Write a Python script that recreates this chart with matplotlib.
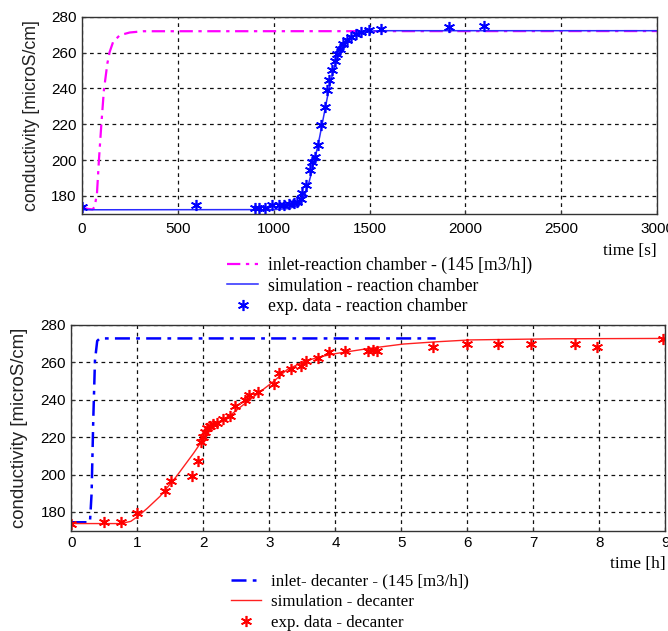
import matplotlib
matplotlib.use('Agg')
import matplotlib.pyplot as plt

# --- top chart: reaction chamber (time in s) ---
inlet_rc_t = [0, 30, 55, 66, 78, 88, 101, 114, 132, 144, 162, 197, 249, 319, 3000]
inlet_rc_v = [173.5, 172.8, 172.5, 174, 181.5, 199.8, 220.3, 238.9, 253.8, 260.3,
              265.9, 269.7, 271.2, 271.9, 272.0]

sim_rc_t = [0, 1000, 1080, 1120, 1140, 1160, 1180, 1200, 1220, 1240, 1260, 1280,
            1300, 1320, 1340, 1360, 1380, 1400, 1430, 1460, 1500, 1560, 3000]
sim_rc_v = [172.3, 172.4, 173, 174.5, 176.5, 180, 186, 194, 203, 213, 224, 235,
            245, 253, 259, 263.5, 266.5, 268.5, 270.5, 271.5, 272, 272.2, 272.2]

exp_rc_t = [0, 595, 904, 921, 957, 992, 1026, 1052, 1079, 1105, 1122, 1140, 1149,
            1170, 1187, 1201, 1213, 1231, 1245, 1266, 1280, 1290, 1302, 1320, 1332,
            1346, 1364, 1381, 1402, 1428, 1454, 1498, 1559, 1915, 2100]
exp_rc_v = [173.6, 175, 173.3, 173.3, 173.3, 175, 175, 175, 175.5, 176, 176.5, 178.3,
            181.5, 186.3, 194.5, 198.8, 201.6, 208.7, 219.7, 229.6, 238.9, 244.9,
            250.5, 255.3, 259.4, 262.2, 265, 266.9, 268.7, 270.6, 271.5, 272.5, 273.4,
            274.5, 275]

# --- bottom chart: decanter (time in h) ---
inlet_dc_t = [0, 0.28, 0.305, 0.33, 0.356, 0.39, 0.43, 5.52]
inlet_dc_v = [174.5, 174.5, 190, 229, 261, 271.5, 272.8, 272.8]

sim_dc_t = [0, 0.75, 0.9, 1.0, 1.15, 1.34, 1.59, 1.85, 1.99, 2.15, 2.35, 2.6, 2.86,
            3.06, 3.26, 3.51, 3.77, 4.02, 4.52, 5.03, 5.53, 6.04, 7.3, 9]
sim_dc_v = [173.8, 173.8, 175, 177.5, 182, 188.3, 199, 211.4, 218.6, 225.7, 230.1,
            237.2, 244.3, 249.7, 255.9, 260.3, 263, 264.8, 267.5, 269.8, 271, 272,
            272.6, 272.8]

exp_dc_t = [0.0, 0.49, 0.745, 1.0, 1.41, 1.51, 1.83, 1.92, 1.97, 2.0, 2.03, 2.06, 2.1,
            2.14, 2.2, 2.3, 2.41, 2.48, 2.63, 2.69, 2.83, 3.07, 3.14, 3.32, 3.48, 3.55,
            3.74, 3.91, 4.14, 4.5, 4.57, 4.63, 5.48, 5.99, 6.47, 6.97, 7.63, 7.96, 8.97]
exp_dc_v = [173.8, 174.5, 174.5, 179.5, 191.4, 196.5, 199.5, 207, 217.6, 220.3, 223,
            224.8, 226, 227.1, 227.8, 229.6, 231.4, 236.9, 239.9, 242.4, 244.3, 248.4,
            254.1, 256.3, 258.2, 260.9, 262.1, 265.3, 266.2, 266.2, 266.6, 266.2, 268.3,
            269.6, 269.8, 269.8, 269.8, 268.3, 272.4]

y_ticks = [180, 200, 220, 240, 260, 280]

tick_font = ['Liberation Sans Narrow', 'Liberation Sans', 'DejaVu Sans']
serif_font = ['Liberation Serif', 'DejaVu Serif']
sans_font = ['Liberation Sans', 'DejaVu Sans']

dashdot = (0, (6, 2.5, 1.5, 2.5))
aster = (6, 2, 0)

fig = plt.figure(figsize=(6.68, 6.31), dpi=100)
ax1 = fig.add_axes([0.1228, 0.6610, 0.8607, 0.3125])
ax2 = fig.add_axes([0.1070, 0.1590, 0.8890, 0.3260])


def style(ax, xlim, xticks, xlab, ylab_x, ylab_size, xlab_pad, xtick_pad):
    ax.set_xlim(*xlim)
    ax.set_ylim(170, 280)
    ax.set_xticks(xticks)
    ax.set_yticks(y_ticks)
    ax.grid(True, color='#111111', linestyle=(0, (3, 3)), linewidth=0.9)
    ax.set_axisbelow(True)
    for s in ax.spines.values():
        s.set_color('#333333')
        s.set_linewidth(1.0)
    ax.tick_params(direction='in', length=3, color='#333333', pad=4)
    ax.tick_params(axis='x', pad=xtick_pad)
    for lab in ax.get_xticklabels() + ax.get_yticklabels():
        lab.set_family(tick_font)
        lab.set_fontsize(11)
    ax.set_ylabel('conductivity [microS/cm]', family=sans_font, fontsize=ylab_size,
                  color='#222222')
    ax.yaxis.set_label_coords(ylab_x, 0.5)
    ax.set_xlabel(xlab, family=serif_font, fontsize=12.5, loc='right', labelpad=xlab_pad)


# top
ax1.plot(inlet_rc_t, inlet_rc_v, color='#ff00ff', linestyle=dashdot, linewidth=1.6,
         label='inlet-reaction chamber - (145 [m3/h])')
ax1.plot(sim_rc_t, sim_rc_v, color='#2a2aff', linewidth=1.1,
         label='simulation - reaction chamber')
ax1.plot(exp_rc_t, exp_rc_v, linestyle='none', marker=aster, markersize=8,
         markeredgewidth=1.2, color='#0000ff', label='exp. data - reaction chamber')
style(ax1, (0, 3000), [0, 500, 1000, 1500, 2000, 2500, 3000], 'time [s]', -0.073,
      12.8, 5, 6)
ax1.legend(loc='upper left', bbox_to_anchor=(0.327, 0.607), bbox_transform=fig.transFigure,
           frameon=False, prop={'family': serif_font, 'size': 12.7}, handlelength=1.75,
           handletextpad=0.55, labelspacing=0.2, borderpad=0, numpoints=1)

# bottom
ax2.plot(inlet_dc_t, inlet_dc_v, color='#0000ff', linestyle=dashdot, linewidth=1.8,
         label='inlet- decanter - (145 [m3/h])')
ax2.plot(sim_dc_t, sim_dc_v, color='#ff2020', linewidth=1.0,
         label='simulation - decanter')
ax2.plot(exp_dc_t, exp_dc_v, linestyle='none', marker=aster, markersize=8,
         markeredgewidth=1.2, color='#ff0000', label='exp. data - decanter')
style(ax2, (0, 9), list(range(10)), 'time [h]', -0.074, 13.4, 4, 4)
ax2.legend(loc='upper left', bbox_to_anchor=(0.333, 0.104), bbox_transform=fig.transFigure,
           frameon=False, prop={'family': serif_font, 'size': 12.2}, handlelength=1.8,
           handletextpad=0.58, labelspacing=0.26, borderpad=0, numpoints=1)

fig.savefig('out.png', dpi=100)
